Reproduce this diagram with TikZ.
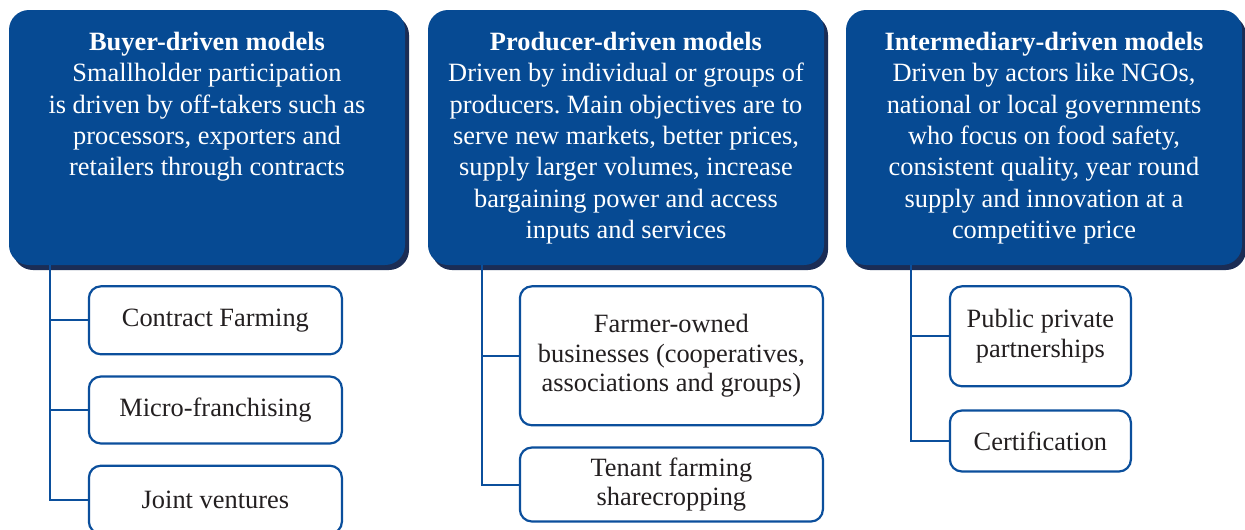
\documentclass[tikz,border=0pt]{standalone}
\usepackage{fontspec}
\setmainfont{Liberation Serif}
\usepackage{tikz}
\usetikzlibrary{positioning, shadows}
\frenchspacing

\definecolor{headblue}{HTML}{064A93}
\definecolor{headshadow}{HTML}{1B2D55}
\definecolor{linkblue}{HTML}{0B4F9C}
\definecolor{inktext}{HTML}{231F20}

\begin{document}
\begin{tikzpicture}[x=1pt, y=-1pt, node distance=20pt,
    header/.style={fill=headblue, draw=none, rounded corners=20pt, minimum width=396pt, minimum height=255pt, inner sep=0pt,
        copy shadow={shadow xshift=4pt, shadow yshift=-5pt, fill=headshadow, draw=none}},
    headtext/.style={anchor=north, align=center, text=white, inner sep=0pt, font=\fontsize{26.4}{31.3}\selectfont},
    model/.style={draw=linkblue, line width=2.2pt, rounded corners=12pt, fill=white, align=center, text=inktext, inner sep=2pt, font=\fontsize{26.4}{29.5}\selectfont},
    link/.style={draw=linkblue, line width=2pt}]
    \useasboundingbox (0,0) rectangle (1245,530);
    % three blue headers
    \node[header] (buyer) at (207,137.5) {};
    \node[header] (producer) at (626,137.5) {};
    \node[header] (broker) at (1044,137.5) {};
    \node[headtext] (buyertxt) at (207,32) {\textbf{Buyer-driven models}\\Smallholder participation\\is driven by off-takers such as\\processors, exporters and\\retailers through contracts};
    \node[headtext] (producertxt) at (626,32) {\textbf{Producer-driven models}\\Driven by individual or groups of\\producers. Main objectives are to\\serve new markets, better prices,\\supply larger volumes, increase\\bargaining power and access\\inputs and services};
    \node[headtext] (brokertxt) at (1044,32) {\textbf{Intermediary-driven models}\\Driven by actors like NGOs,\\national or local governments\\who focus on food safety,\\consistent quality, year round\\supply and innovation at a\\competitive price};
    % buyer-driven models
    \node[model, minimum width=253pt, minimum height=68pt, below right=20pt and 79pt of buyer.south west] (contract) {Contract Farming};
    \node[model, minimum width=253pt, minimum height=67pt, below=of contract] (franchise) {Micro-franchising};
    \node[model, minimum width=253pt, minimum height=68pt, below=of franchise] (joint) {Joint ventures};
    % producer-driven models
    \node[model, minimum width=303pt, minimum height=139pt, below right=20pt and 91pt of producer.south west] (farmer) {Farmer-owned\\businesses (cooperatives,\\associations and groups)};
    \node[model, minimum width=303pt, minimum height=74pt, below=of farmer] (tenant) {Tenant farming\\sharecropping};
    % intermediary-driven models
    \node[model, minimum width=181pt, minimum height=100pt, below right=20pt and 103pt of broker.south west] (ppp) {Public private\\partnerships};
    \node[model, minimum width=181pt, minimum height=61pt, below=22pt of ppp] (cert) {Certification};
    % spines
    \coordinate (bspine) at ([xshift=-38pt]contract.west);
    \coordinate (pspine) at ([xshift=-37pt]farmer.west);
    \coordinate (ispine) at ([xshift=-38pt]ppp.west);
    \draw[link] (joint.west) -| (bspine |- buyer.south);
    \draw[link] (contract.west) -- (bspine);
    \draw[link] (franchise.west) -- (bspine |- franchise.west);
    \draw[link] (tenant.west) -| (pspine |- producer.south);
    \draw[link] (farmer.west) -- (pspine);
    \draw[link] (cert.west) -| (ispine |- broker.south);
    \draw[link] (ppp.west) -- (ispine);
\end{tikzpicture}
\end{document}
